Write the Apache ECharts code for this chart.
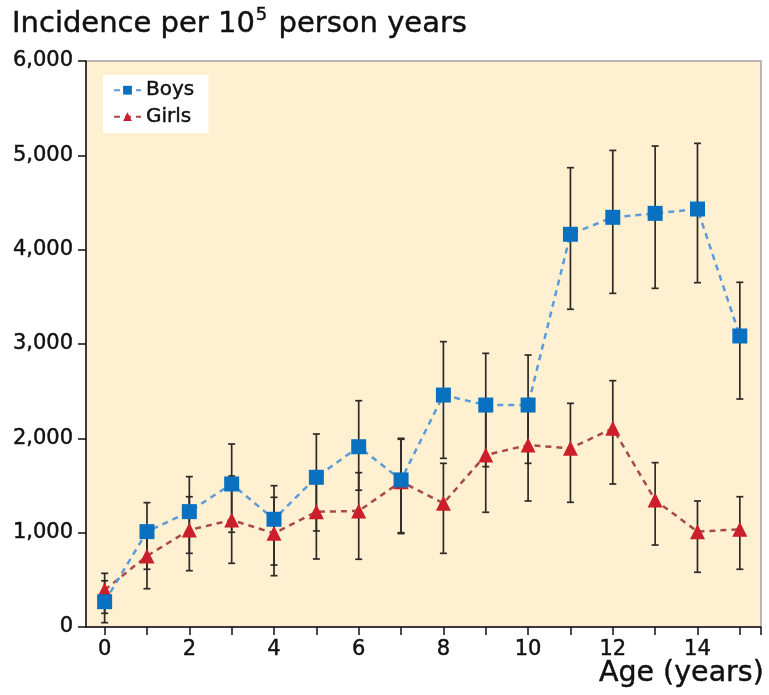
<!DOCTYPE html>
<html><head><meta charset="utf-8">
<script src="https://cdn.jsdelivr.net/npm/echarts@6/dist/echarts.min.js"></script>
<style>html,body{margin:0;padding:0;background:#fff}#c{width:769px;height:695px}</style>
</head><body><div id="c"></div>
<script>
const ages = [0,1,2,3,4,5,6,7,8,9,10,11,12,13,14,15];
const boys     = [268,1011,1223,1516,1142,1587,1911,1559,2459,2353,2353,4163,4343,4385,4431,3085];
const boysLow  = [46,612,781,1004,657,1018,1450,1000,1788,1700,1735,3368,3537,3590,3650,2417];
const boysHigh = [490,1318,1594,1940,1498,2046,2399,2000,3025,2901,2883,4869,5052,5099,5127,3654];
const girls     = [392,753,1028,1134,993,1222,1230,1541,1311,1823,1929,1894,2106,1346,1011,1036];
const girlsLow  = [145,406,597,675,544,721,718,990,781,1216,1336,1322,1516,869,580,612];
const girlsHigh = [569,1060,1381,1600,1375,1643,1636,1990,1735,2400,2350,2371,2611,1742,1336,1381];
const xTickVals = [0,1,2,3,4,5,6,7,8,9,10,11,12,13,14,15,15.5];
const xLabelVals = [0,2,4,6,8,10,12,14];

const font = 'DejaVu Sans, sans-serif';
const ink = '#111111';
const chart = echarts.init(document.getElementById('c'));

function errData(low, high){ return ages.map((a,i)=>[a, low[i], high[i]]); }
function errRender(params, api){
  const x = api.value(0);
  const lo = api.coord([x, api.value(1)]);
  const hi = api.coord([x, api.value(2)]);
  const hw = 3.5;
  const st = {stroke:'#2e2a26', lineWidth:1.7};
  return {type:'group', children:[
    {type:'line', shape:{x1:lo[0],y1:lo[1],x2:hi[0],y2:hi[1]}, style:st},
    {type:'line', shape:{x1:lo[0]-hw,y1:lo[1],x2:lo[0]+hw,y2:lo[1]}, style:st},
    {type:'line', shape:{x1:hi[0]-hw,y1:hi[1],x2:hi[0]+hw,y2:hi[1]}, style:st}
  ]};
}
const bold = {textBorderColor:ink, textBorderWidth:0.45};

chart.setOption({
  animation:false,
  title:{
    text:'{a|Incidence per 10}{s|5}{a| person years}',
    left:7, top:-3,
    textStyle:{rich:{
      a:Object.assign({fontFamily:font, fontSize:29, fontWeight:'normal', color:ink, verticalAlign:'bottom', lineHeight:37}, bold),
      s:Object.assign({fontFamily:font, fontSize:18, fontWeight:'normal', color:ink, verticalAlign:'top', lineHeight:37, padding:[4,2,0,1]}, bold)
    }}
  },
  graphic:[{type:'text', right:5, top:659, style:Object.assign({text:'Age (years)', font:'28.5px '+font, fill:ink, stroke:ink, lineWidth:0.45})}],
  legend:{
    left:103, top:75, orient:'vertical', itemGap:6,
    backgroundColor:'#ffffff', padding:[5,14,6,10],
    itemWidth:27, itemHeight:11,
    textStyle:Object.assign({fontFamily:font, fontSize:20, color:ink}, bold),
    data:['Boys','Girls']
  },
  grid:{left:86, top:61, right:8, bottom:68, show:true, backgroundColor:'#fef0d1', borderColor:'#a3a3a3', borderWidth:1.5},
  xAxis:{
    type:'value', min:-0.44, max:15.5,
    axisLine:{lineStyle:{color:ink, width:1.5}},
    axisTick:{show:true, length:8, customValues:xTickVals, lineStyle:{color:ink, width:1.5}},
    axisLabel:Object.assign({customValues:xLabelVals, fontFamily:font, fontSize:21, color:ink, margin:12}, bold),
    splitLine:{show:false}
  },
  yAxis:{
    type:'value', min:0, max:6000, interval:1000,
    axisLine:{show:true, onZero:false, lineStyle:{color:ink, width:1.5}},
    axisTick:{show:true, length:8, lineStyle:{color:ink, width:1.5}},
    axisLabel:Object.assign({fontFamily:font, fontSize:21, color:ink, margin:13,
      formatter:v=>v.toLocaleString('en-US')}, bold),
    splitLine:{show:false}
  },
  series:[
    {type:'custom', name:'boysErr', renderItem:errRender, data:errData(boysLow,boysHigh), z:1, silent:true},
    {type:'custom', name:'girlsErr', renderItem:errRender, data:errData(girlsLow,girlsHigh), z:1, silent:true},
    {type:'line', name:'Boys', data:ages.map((a,i)=>[a,boys[i]]), z:3,
      symbol:'rect', symbolSize:15,
      itemStyle:{color:'#0a70c0'},
      lineStyle:{color:'#5b9bd8', width:2.5, type:[6,5]}},
    {type:'line', name:'Girls', data:ages.map((a,i)=>[a,girls[i]]), z:2,
      symbol:'triangle', symbolSize:15,
      itemStyle:{color:'#cc1f2b'},
      lineStyle:{color:'#a94a4a', width:2.5, type:[6,5]}}
  ]
});
</script></body></html>
